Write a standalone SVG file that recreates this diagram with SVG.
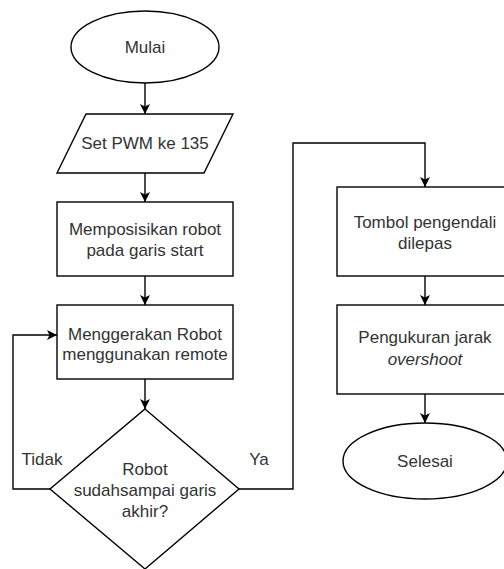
<svg xmlns="http://www.w3.org/2000/svg" width="504" height="569" viewBox="0 0 504 569">
<defs>
<marker id="ah" viewBox="0 0 10 10" refX="10" refY="5" markerWidth="10" markerHeight="10" markerUnits="userSpaceOnUse" orient="auto">
<path d="M0,0 L10,5 L0,10 L2.5,5 Z" fill="#000"/>
</marker>
<style>
.n{fill:#fff;stroke:#000;stroke-width:1.4}
.t{font-family:"Liberation Sans",Arial,sans-serif;font-size:17px;fill:#333;text-anchor:middle}
.c{fill:none;stroke:#000;stroke-width:1.4;marker-end:url(#ah)}
</style>
</defs>
<rect width="504" height="569" fill="#fff"/>
<g id="connectors">
<path class="c" d="M145,83 V114"/>
<path class="c" d="M145,173 V202"/>
<path class="c" d="M145,276 V305"/>
<path class="c" d="M145,379 V409"/>
<path class="c" d="M50,489 H13 V335 H57"/>
<path class="c" d="M239,489 H293 V143 H425 V187"/>
<path class="c" d="M425,276 V305"/>
<path class="c" d="M425,394 V423"/>
</g>
<g id="mulai"><ellipse class="n" cx="145" cy="47" rx="74" ry="36"/><text class="t" x="145" y="53">Mulai</text></g>
<g id="setpwm"><polygon class="n" points="86,114 233,114 204,173 57,173"/><text class="t" x="145" y="149">Set PWM ke 135</text></g>
<g id="posisi"><rect class="n" x="57" y="202" width="176" height="74"/><text class="t" x="145" y="235">Memposisikan robot</text><text class="t" x="145" y="256">pada garis start</text></g>
<g id="gerak"><rect class="n" x="57" y="305" width="176" height="74"/><text class="t" x="145" y="340">Menggerakan Robot</text><text class="t" x="145" y="360">menggunakan remote</text></g>
<g id="cek"><polygon class="n" points="145,409 239,489 145,569 50,489"/><text class="t" x="145" y="475">Robot</text><text class="t" x="145" y="496">sudahsampai garis</text><text class="t" x="145" y="517">akhir?</text></g>
<g id="labels"><text class="t" x="42" y="465">Tidak</text><text class="t" x="259" y="465">Ya</text></g>
<g id="tombol"><rect class="n" x="337" y="187" width="176" height="89"/><text class="t" x="425" y="228">Tombol pengendali</text><text class="t" x="425" y="249">dilepas</text></g>
<g id="ukur"><rect class="n" x="337" y="305" width="176" height="89"/><text class="t" x="425" y="343">Pengukuran jarak</text><text class="t" x="425" y="365" font-style="italic">overshoot</text></g>
<g id="selesai"><ellipse class="n" cx="425" cy="461" rx="82" ry="38"/><text class="t" x="425" y="467">Selesai</text></g>
</svg>
